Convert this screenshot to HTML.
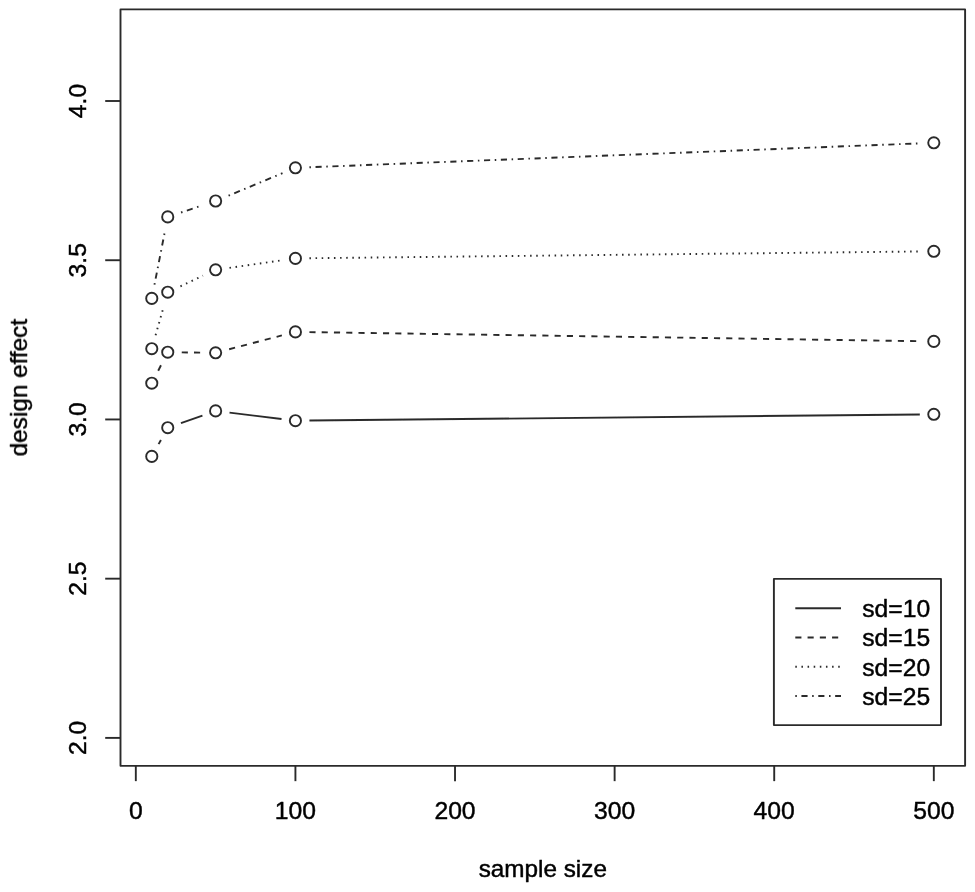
<!DOCTYPE html>
<html lang="en">
<head>
<meta charset="utf-8">
<title>design effect vs sample size</title>
<style>
html,body{margin:0;padding:0;background:#fff;}
body{width:975px;height:892px;overflow:hidden;}
</style>
</head>
<body>
<svg width="975" height="892" viewBox="0 0 975 892" style="display:block">
<rect x="0" y="0" width="975" height="892" fill="#fff"/>
<defs><filter id="soft" x="-2%" y="-2%" width="104%" height="104%"><feGaussianBlur stdDeviation="0.35"/></filter><filter id="softt" x="-2%" y="-2%" width="104%" height="104%"><feGaussianBlur stdDeviation="0.25"/></filter></defs>
<g fill="none" stroke="#2b2b2b" stroke-width="1.9" stroke-linecap="butt" stroke-linejoin="round" filter="url(#soft)">
<rect x="120.5" y="9.4" width="844.60" height="756.45"/>
<line x1="135.82" y1="765.85" x2="135.82" y2="781.15"/>
<line x1="295.42" y1="765.85" x2="295.42" y2="781.15"/>
<line x1="455.02" y1="765.85" x2="455.02" y2="781.15"/>
<line x1="614.62" y1="765.85" x2="614.62" y2="781.15"/>
<line x1="774.22" y1="765.85" x2="774.22" y2="781.15"/>
<line x1="933.82" y1="765.85" x2="933.82" y2="781.15"/>
<line x1="120.5" y1="737.90" x2="105.20" y2="737.90"/>
<line x1="120.5" y1="578.67" x2="105.20" y2="578.67"/>
<line x1="120.5" y1="419.45" x2="105.20" y2="419.45"/>
<line x1="120.5" y1="260.23" x2="105.20" y2="260.23"/>
<line x1="120.5" y1="101.00" x2="105.20" y2="101.00"/>
<line x1="158.59" y1="444.16" x2="160.94" y2="439.94"/>
<line x1="180.95" y1="423.06" x2="202.41" y2="415.54"/>
<line x1="229.52" y1="412.61" x2="281.53" y2="418.99"/>
<line x1="309.42" y1="420.56" x2="919.82" y2="414.44"/>
<circle cx="151.78" cy="456.40" r="5.6"/>
<circle cx="167.74" cy="427.70" r="5.6"/>
<circle cx="215.62" cy="410.90" r="5.6"/>
<circle cx="295.42" cy="420.70" r="5.6"/>
<circle cx="933.82" cy="414.30" r="5.6"/>
<line x1="158.19" y1="370.75" x2="161.33" y2="364.65" stroke-dasharray="6.13 6.13"/>
<line x1="181.74" y1="352.38" x2="201.62" y2="352.62" stroke-dasharray="6.13 6.13"/>
<line x1="229.16" y1="349.25" x2="281.88" y2="335.45" stroke-dasharray="6.13 6.13"/>
<line x1="309.42" y1="332.11" x2="919.82" y2="341.19" stroke-dasharray="6.13 6.13"/>
<circle cx="151.78" cy="383.20" r="5.6"/>
<circle cx="167.74" cy="352.20" r="5.6"/>
<circle cx="215.62" cy="352.80" r="5.6"/>
<circle cx="295.42" cy="331.90" r="5.6"/>
<circle cx="933.82" cy="341.40" r="5.6"/>
<line x1="155.59" y1="335.23" x2="163.94" y2="305.67" stroke-dasharray="1.53 4.60"/>
<line x1="180.42" y1="286.27" x2="202.94" y2="275.73" stroke-dasharray="1.53 4.60"/>
<line x1="229.48" y1="267.82" x2="281.56" y2="260.38" stroke-dasharray="1.53 4.60"/>
<line x1="309.42" y1="258.24" x2="919.82" y2="251.46" stroke-dasharray="1.53 4.60"/>
<circle cx="151.78" cy="348.70" r="5.6"/>
<circle cx="167.74" cy="292.20" r="5.6"/>
<circle cx="215.62" cy="269.80" r="5.6"/>
<circle cx="295.42" cy="258.40" r="5.6"/>
<circle cx="933.82" cy="251.30" r="5.6"/>
<line x1="154.47" y1="284.66" x2="165.05" y2="230.64" stroke-dasharray="1.53 4.60 6.13 4.60"/>
<line x1="181.03" y1="212.49" x2="202.33" y2="205.41" stroke-dasharray="1.53 4.60 6.13 4.60"/>
<line x1="228.55" y1="195.62" x2="282.49" y2="173.18" stroke-dasharray="1.53 4.60 6.13 4.60"/>
<line x1="309.41" y1="167.25" x2="919.83" y2="143.35" stroke-dasharray="1.53 4.60 6.13 4.60"/>
<circle cx="151.78" cy="298.40" r="5.6"/>
<circle cx="167.74" cy="216.90" r="5.6"/>
<circle cx="215.62" cy="201.00" r="5.6"/>
<circle cx="295.42" cy="167.80" r="5.6"/>
<circle cx="933.82" cy="142.80" r="5.6"/>
<rect x="773.9" y="578.9" width="167.10" height="146.20"/>
<line x1="795.3" y1="608.2" x2="841.0" y2="608.2"/>
<line x1="795.3" y1="637.5" x2="841.0" y2="637.5" stroke-dasharray="6.13 6.13"/>
<line x1="795.3" y1="666.7" x2="841.0" y2="666.7" stroke-dasharray="1.53 4.60"/>
<line x1="795.3" y1="696.0" x2="841.0" y2="696.0" stroke-dasharray="1.53 4.60 6.13 4.60"/>
</g>
<g font-family="'Liberation Sans', Arial, Helvetica, sans-serif" font-size="24.7" fill="#000" stroke="#000" stroke-width="0.45" stroke-linejoin="round" filter="url(#softt)">
<text x="862.2" y="617.00">sd=10</text>
<text x="862.2" y="646.30">sd=15</text>
<text x="862.2" y="675.50">sd=20</text>
<text x="862.2" y="704.80">sd=25</text>
<text x="135.82" y="819.2" text-anchor="middle">0</text>
<text x="295.42" y="819.2" text-anchor="middle">100</text>
<text x="455.02" y="819.2" text-anchor="middle">200</text>
<text x="614.62" y="819.2" text-anchor="middle">300</text>
<text x="774.22" y="819.2" text-anchor="middle">400</text>
<text x="933.82" y="819.2" text-anchor="middle">500</text>
<text transform="translate(85.8 737.90) rotate(-90)" text-anchor="middle">2.0</text>
<text transform="translate(85.8 578.67) rotate(-90)" text-anchor="middle">2.5</text>
<text transform="translate(85.8 419.45) rotate(-90)" text-anchor="middle">3.0</text>
<text transform="translate(85.8 260.23) rotate(-90)" text-anchor="middle">3.5</text>
<text transform="translate(85.8 101.00) rotate(-90)" text-anchor="middle">4.0</text>
<text x="542.80" y="876.8" font-size="24.3" text-anchor="middle">sample size</text>
<text transform="translate(27.0 387.62) rotate(-90)" font-size="24.3" text-anchor="middle">design effect</text>
</g>
</svg>
</body>
</html>
